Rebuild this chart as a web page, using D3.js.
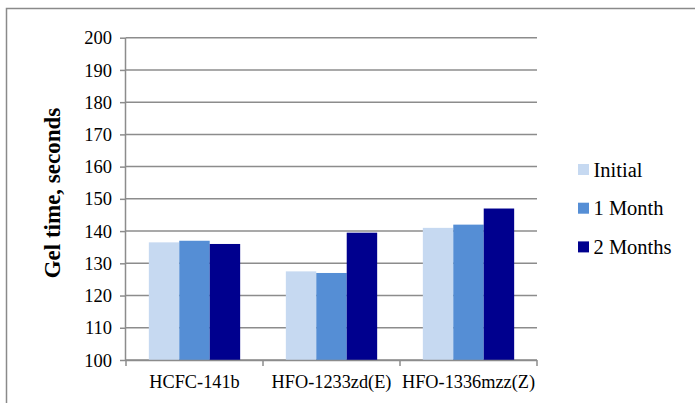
<!DOCTYPE html>
<html><head><meta charset="utf-8">
<script src="https://cdn.jsdelivr.net/npm/d3@7"></script>
<style>body{margin:0;background:#fff}svg{display:block}</style>
</head><body><svg id="c" width="695" height="403"></svg>
<script>
const categories = ["HCFC-141b", "HFO-1233zd(E)", "HFO-1336mzz(Z)"];
const seriesNames = ["Initial", "1 Month", "2 Months"];
const initialVals = [136.5, 127.5, 141];
const month1Vals = [137, 127, 142];
const month2Vals = [136, 139.5, 147];
const yTicks = [100, 110, 120, 130, 140, 150, 160, 170, 180, 190, 200];
const colors = ["#C6D9F1", "#558ED5", "#00008E"];
const seriesVals = [initialVals, month1Vals, month2Vals];
const FONT = "Liberation Serif";

const svg = d3.select("#c").attr("font-family", FONT);
// outer border
svg.append("path").attr("d", "M6.5,403 V8.5 H695").attr("fill","none").attr("stroke","#8a8a8a").attr("stroke-width",1.5);

const pLeft = 126, pRight = 537, pTop = 37.7, pBottom = 360;
const x = d3.scaleBand().domain(categories).range([pLeft, pRight]).paddingInner(0).paddingOuter(0);
const y = d3.scaleLinear().domain([100, 200]).range([pBottom, pTop]);

// gridlines
svg.append("g").selectAll("line").data(yTicks).join("line")
  .attr("x1", pLeft).attr("x2", pRight)
  .attr("y1", d => y(d)).attr("y2", d => y(d))
  .attr("stroke", "#8c8c8c").attr("stroke-width", 1.5);

// bars
const groupW = x.bandwidth();
const barW = groupW / 4.5;
const gap = (groupW - 3 * barW) / 2;
seriesVals.forEach((vals, si) => {
  svg.append("g").selectAll("rect").data(vals).join("rect")
    .attr("x", (d, i) => x(categories[i]) + gap + si * barW)
    .attr("y", d => y(d))
    .attr("width", barW)
    .attr("height", d => y(100) - y(d))
    .attr("fill", colors[si]);
});

// y axis
const yAxis = d3.axisLeft(y).tickValues(yTicks).tickSize(6).tickPadding(8).tickFormat(d3.format("d"));
const ga = svg.append("g").attr("transform", `translate(${pLeft},0)`).call(yAxis)
  .attr("font-family", FONT).attr("font-size", 18.5);
ga.select(".domain").attr("d", `M-0.5,${pTop}V${pBottom}`).attr("stroke","#8c8c8c").attr("stroke-width",1.5);
ga.selectAll(".tick line").attr("stroke","#8c8c8c").attr("stroke-width",1.5).attr("x1",-6).attr("x2",0);
ga.selectAll(".tick text").attr("fill","#000").attr("font-family", FONT).attr("font-size", 18.5).attr("dy","0.33em");

// x axis
const xAxis = d3.axisBottom(x).tickSize(0).tickPadding(15);
const gx = svg.append("g").attr("transform", `translate(0,${pBottom})`).call(xAxis)
  .attr("font-family", FONT).attr("font-size", 18.3);
gx.select(".domain").attr("stroke","#8c8c8c").attr("stroke-width",1.5).attr("d", `M${pLeft},0.5H${pRight}`);
gx.selectAll(".tick text").attr("fill","#000").attr("font-family", FONT).attr("font-size", 18.3);
const xt = [pLeft, x(categories[1]), x(categories[2]), pRight];
svg.append("g").selectAll("line").data(xt).join("line")
  .attr("x1", d => d).attr("x2", d => d).attr("y1", pBottom).attr("y2", pBottom + 6)
  .attr("stroke", "#8c8c8c").attr("stroke-width", 1.5);

// y title
svg.append("text").attr("transform", "translate(60,193) rotate(-90)")
  .attr("text-anchor","middle").attr("font-weight","bold").attr("font-size",23)
  .attr("font-family", FONT)
  .text("Gel time, seconds");

// legend
const leg = svg.append("g").selectAll("g").data(seriesNames).join("g")
  .attr("transform", (d, i) => `translate(578,${169.5 + i * 38.7})`);
leg.append("rect").attr("x", 0).attr("y", -5.5).attr("width", 11).attr("height", 11).attr("fill", (d, i) => colors[i]);
leg.append("text").attr("x", 15.5).attr("y", 7).attr("font-size", 20.5).attr("font-family", FONT).text(d => d);
</script></body></html>
